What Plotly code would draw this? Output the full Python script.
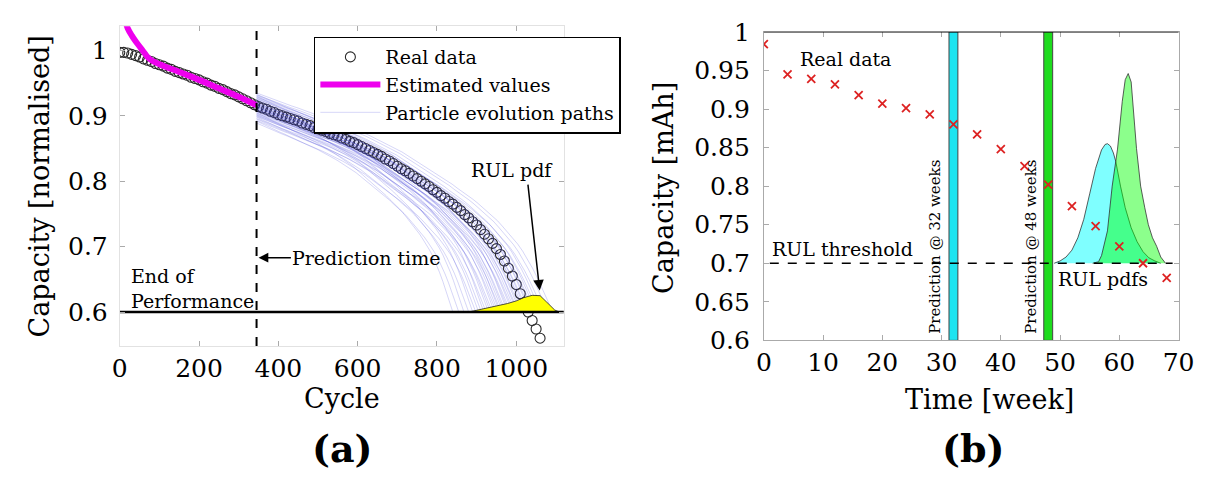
import numpy as np
import plotly.graph_objects as go

FONT = "DejaVu Serif"

# ---------------- Panel (a) data ----------------
real_cycles = list(range(0, 1070, 10))
real_values = [
    0.997, 0.997, 0.996, 0.994, 0.992, 0.990, 0.987, 0.985, 0.983, 0.980,
    0.978, 0.976, 0.973, 0.971, 0.968, 0.966, 0.964, 0.962, 0.959, 0.957,
    0.955, 0.952, 0.950, 0.947, 0.945, 0.942, 0.940, 0.937, 0.934, 0.932,
    0.929, 0.926, 0.923, 0.920, 0.917, 0.914, 0.912, 0.910, 0.907, 0.905,
    0.902, 0.900, 0.898, 0.896, 0.894, 0.892, 0.889, 0.887, 0.885, 0.882,
    0.880, 0.878, 0.876, 0.873, 0.871, 0.869, 0.866, 0.864, 0.861, 0.859,
    0.856, 0.853, 0.850, 0.847, 0.844, 0.841, 0.838, 0.834, 0.831, 0.827,
    0.823, 0.819, 0.816, 0.812, 0.808, 0.804, 0.800, 0.796, 0.792, 0.787,
    0.783, 0.778, 0.774, 0.769, 0.765, 0.760, 0.755, 0.749, 0.744, 0.738,
    0.733, 0.726, 0.719, 0.712, 0.705, 0.697, 0.688, 0.678, 0.667, 0.655,
    0.642, 0.628, 0.614, 0.600, 0.587, 0.574, 0.560,
]

est_cycles = [14, 20, 30, 40, 50, 60, 70, 80, 100, 150, 200, 250, 300, 345]
est_values = [1.045, 1.034, 1.023, 1.014, 1.006, 0.998, 0.990, 0.985, 0.979,
              0.967, 0.955, 0.942, 0.929, 0.916]

prediction_cycle = 345
eop_level = 0.6

# particle paths: start value at prediction time and cycle where each hits 0.6
particle_start = [0.905, 0.892, 0.915, 0.898, 0.925, 0.889, 0.910, 0.902, 0.930, 0.895,
                  0.918, 0.907, 0.893, 0.921, 0.900, 0.913, 0.927, 0.896, 0.909, 0.916,
                  0.903, 0.933, 0.911, 0.899, 0.920, 0.906, 0.914, 0.924, 0.901, 0.917,
                  0.908, 0.928, 0.912, 0.919, 0.904, 0.931, 0.915, 0.922, 0.910, 0.926,
                  0.913, 0.929, 0.918, 0.932, 0.935]
particle_eol = [840, 855, 868, 880, 890, 898, 905, 912, 918, 924,
                930, 935, 940, 945, 950, 954, 958, 962, 966, 970,
                974, 978, 982, 986, 990, 994, 998, 1002, 1006, 1010,
                1014, 1018, 1022, 1026, 1030, 1034, 1038, 1042, 1046, 1050,
                1056, 1062, 1070, 1080, 1092]

rul_cycles = [880, 920, 953, 978, 1000, 1019, 1040, 1060, 1077, 1090, 1097, 1109]
rul_values = [0.600, 0.605, 0.610, 0.613, 0.617, 0.622, 0.6255, 0.625, 0.615, 0.607, 0.603, 0.600]

xticks_a = [0, 200, 400, 600, 800, 1000]
yticks_a = [0.6, 0.7, 0.8, 0.9, 1.0]

# ---------------- Panel (b) data ----------------
weeks = [0, 4, 8, 12, 16, 20, 24, 28, 32, 36, 40, 44, 48, 52, 56, 60, 64, 68]
capacity_mah = [0.984, 0.945, 0.939, 0.932, 0.918, 0.907, 0.901, 0.893, 0.880,
                0.867, 0.848, 0.826, 0.802, 0.774, 0.748, 0.722, 0.700, 0.681]

pdf32_weeks = [49.0, 50.0, 51.0, 52.0, 53.0, 54.0, 55.0, 56.0, 57.0, 57.6, 58.0, 58.5,
               59.0, 59.4, 60.2, 61.0, 62.0, 63.0, 64.0, 65.0, 66.0, 67.0]
pdf32_values = [0.700, 0.703, 0.708, 0.717, 0.733, 0.757, 0.790, 0.823, 0.847, 0.854, 0.855, 0.852,
                0.843, 0.832, 0.800, 0.772, 0.746, 0.728, 0.715, 0.707, 0.703, 0.700]

pdf48_weeks = [55.5, 56.5, 57.0, 57.5, 58.0, 58.8, 59.7, 60.5, 61.0, 61.5, 62.0, 62.9,
               63.6, 64.3, 64.9, 65.6, 66.3, 67.0, 67.8]
pdf48_values = [0.700, 0.702, 0.710, 0.725, 0.742, 0.800, 0.848, 0.910, 0.938, 0.946, 0.935, 0.849,
                0.800, 0.772, 0.750, 0.733, 0.722, 0.708, 0.700]

rul_threshold = 0.7
pred_weeks = [32, 48]
xticks_b = [0, 10, 20, 30, 40, 50, 60, 70]
yticks_b = [0.6, 0.65, 0.7, 0.75, 0.8, 0.85, 0.9, 0.95, 1.0]

fig = go.Figure()

# ---- panel (a) traces ----
fig.add_trace(go.Scatter(
    x=real_cycles, y=real_values, mode="markers", name="Real data",
    marker=dict(symbol="circle-open", size=10, color="#2a2a2a", line=dict(width=1.1)),
    xaxis="x", yaxis="y", legendrank=1))
fig.add_trace(go.Scatter(
    x=est_cycles, y=est_values, mode="lines", name="Estimated values",
    line=dict(color="#ee00ee", width=6, shape="spline"),
    xaxis="x", yaxis="y", legendrank=2))

# particle paths follow the shape of the observed degradation after prediction time
rc = np.array(real_cycles, dtype=float)
rv = np.array(real_values, dtype=float)
r0 = np.interp(prediction_cycle, rc, rv)
end_c = 1030.0
tgrid = np.linspace(0, 1, 60)
shape = (r0 - np.interp(prediction_cycle + tgrid * (end_c - prediction_cycle), rc, rv)) / (r0 - eop_level)
for i, (s, e) in enumerate(zip(particle_start, particle_eol)):
    cx = prediction_cycle + tgrid * (e - prediction_cycle)
    cy = s - (s - eop_level) * shape
    fig.add_trace(go.Scatter(
        x=cx, y=cy, mode="lines", name="Particle evolution paths",
        line=dict(color="rgba(70,70,220,0.38)", width=0.6),
        legendgroup="paths", showlegend=(i == 0), xaxis="x", yaxis="y", legendrank=3,
        hoverinfo="skip"))

fig.add_trace(go.Scatter(
    x=rul_cycles + [rul_cycles[0]], y=rul_values + [rul_values[0]], mode="lines",
    fill="toself", fillcolor="#ffff00", line=dict(color="#222222", width=0.8),
    showlegend=False, xaxis="x", yaxis="y"))
fig.add_trace(go.Scatter(
    x=[0, 1120], y=[eop_level, eop_level], mode="lines",
    line=dict(color="black", width=2.5), showlegend=False, xaxis="x", yaxis="y"))
fig.add_trace(go.Scatter(
    x=[prediction_cycle, prediction_cycle], y=[0.548, 1.037], mode="lines",
    line=dict(color="black", width=2, dash="dash"), showlegend=False, xaxis="x", yaxis="y"))

# ---- panel (b) traces ----
fig.add_trace(go.Scatter(
    x=pdf32_weeks, y=pdf32_values, mode="lines", fill="toself",
    fillcolor="rgba(0,255,255,0.5)", line=dict(color="#333333", width=0.8),
    showlegend=False, xaxis="x2", yaxis="y2"))
fig.add_trace(go.Scatter(
    x=pdf48_weeks, y=pdf48_values, mode="lines", fill="toself",
    fillcolor="rgba(0,255,0,0.45)", line=dict(color="#333333", width=0.8),
    showlegend=False, xaxis="x2", yaxis="y2"))
fig.add_trace(go.Scatter(
    x=[1, 69], y=[rul_threshold, rul_threshold], mode="lines",
    line=dict(color="black", width=1.6, dash="dash"), showlegend=False, xaxis="x2", yaxis="y2"))
fig.add_trace(go.Scatter(
    x=weeks, y=capacity_mah, mode="markers",
    marker=dict(symbol="x-thin", size=8, color="#dd2222", line=dict(width=1.8, color="#dd2222")),
    showlegend=False, xaxis="x2", yaxis="y2"))

shapes = []
bar_colors = ["#1ee4f0", "#1edc1e"]
for w, c in zip(pred_weeks, bar_colors):
    shapes.append(dict(type="rect", xref="x2", yref="y2", x0=w - 0.75, x1=w + 0.75,
                       y0=0.6, y1=1.0, fillcolor=c, line=dict(color="#444444", width=1),
                       layer="below"))
shapes.append(dict(type="line", xref="x2 domain", yref="y2", x0=0, x1=1, y0=1.0, y1=1.0,
                   line=dict(color="black", width=1.2)))

ann = []
tf = dict(family=FONT, size=19, color="black")
# panel (a)
ann.append(dict(xref="x", yref="y", x=24, y=0.636, text="End of<br>Performance",
                showarrow=False, xanchor="left", yanchor="middle", align="left", font=tf))
ann.append(dict(xref="x", yref="y", x=350, y=0.683, ax=622, ay=0.683, axref="x", ayref="y",
                text="Prediction time", showarrow=True, arrowhead=2, arrowsize=1.3,
                arrowwidth=1.5, arrowcolor="black", font=tf))
ann.append(dict(xref="x", yref="y", x=990, y=0.817, text="RUL pdf", showarrow=False,
                xanchor="center", yanchor="middle", font=tf))
ann.append(dict(xref="x", yref="y", x=1059, y=0.633, ax=1029, ay=0.797, axref="x", ayref="y",
                text="", showarrow=True, arrowhead=2, arrowsize=1.4, arrowwidth=1.5,
                arrowcolor="black"))
# panel (b)
ann.append(dict(xref="x2", yref="y2", x=13.7, y=0.965, text="Real data", showarrow=False,
                xanchor="center", yanchor="middle", font=tf))
ann.append(dict(xref="x2", yref="y2", x=1.0, y=0.702, text="RUL threshold", showarrow=False,
                xanchor="left", yanchor="bottom", font=tf))
ann.append(dict(xref="x2", yref="y2", x=57.2, y=0.679, text="RUL pdfs", showarrow=False,
                xanchor="center", yanchor="middle", font=tf))
for w, xpos in zip(pred_weeks, [28.9, 45.1]):
    ann.append(dict(xref="x2", yref="y2", x=xpos, y=0.606, text=f"Prediction @ {w} weeks",
                    showarrow=False, textangle=-90, xanchor="center", yanchor="bottom",
                    font=dict(family=FONT, size=15, color="black")))
# axis titles and panel labels
axf = dict(family=FONT, size=27, color="black")
def paper_text(xp, yp, text, font, angle=0):
    return dict(xref="paper", yref="paper", x=xp / 1222, y=1 - yp / 488, text=text,
                textangle=angle, showarrow=False, xanchor="center", yanchor="middle", font=font)
ann.append(paper_text(32, 183, "Capacity [normalised]", axf, -90))
ann.append(paper_text(668, 185, "Capacity [mAh]", axf, -90))
ann.append(paper_text(341, 409, "Cycle", axf))
ann.append(paper_text(1001, 410, "Time [week]", axf))
ann.append(paper_text(341, 462, "<b>(a)</b>", dict(family=FONT, size=38, color="black")))
ann.append(paper_text(985, 462, "<b>(b)</b>", dict(family=FONT, size=38, color="black")))

tickfont = dict(family=FONT, size=25, color="black")
axis_common = dict(showgrid=False, zeroline=False, ticks="inside", ticklen=5, tickcolor="#aaaaaa",
                   showline=True, mirror="ticks", tickfont=tickfont)

fig.update_layout(
    width=1222, height=488, margin=dict(l=0, r=0, t=0, b=0),
    paper_bgcolor="white", plot_bgcolor="white",
    font=dict(family=FONT, color="black"),
    xaxis=dict(domain=[114 / 1222, 567 / 1222], range=[0, 1120], tickvals=xticks_a,
               linecolor="#e2e2e2", anchor="y", **axis_common),
    yaxis=dict(domain=[1 - 353 / 488, 1 - 13 / 488], range=[0.548, 1.037], tickvals=yticks_a,
               ticktext=["0.6", "0.7", "0.8", "0.9", "1"], linecolor="#e2e2e2", anchor="x",
               ticklabelstandoff=6, **axis_common),
    xaxis2=dict(domain=[771 / 1222, 1194 / 1222], range=[0, 70], tickvals=xticks_b,
                linecolor="#aaaaaa", anchor="y2", **axis_common),
    yaxis2=dict(domain=[1 - 347 / 488, 1 - 19 / 488], range=[0.6, 1.0], tickvals=yticks_b,
                ticktext=["0.6", "0.65", "0.7", "0.75", "0.8", "0.85", "0.9", "0.95", "1"],
                linecolor="#aaaaaa", anchor="x2", ticklabelstandoff=8, **axis_common),
    legend=dict(x=312 / 1222, y=1 - 24 / 488, xanchor="left", yanchor="top",
                bgcolor="white", bordercolor="black", borderwidth=1.5,
                font=dict(family=FONT, size=19, color="black"), itemwidth=60,
                tracegroupgap=0),
    shapes=shapes, annotations=ann, showlegend=True,
)

fig.write_html("out.html")
